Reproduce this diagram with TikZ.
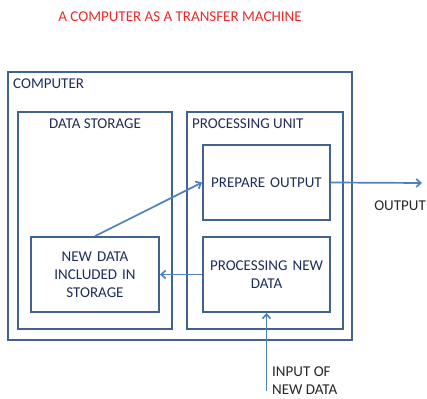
\documentclass[tikz,border=0pt]{standalone}
\usepackage{fontspec}
\setmainfont{Carlito}
\usetikzlibrary{arrows.meta}
\definecolor{boxline}{HTML}{42628F}
\definecolor{arrowline}{HTML}{4F81BD}
\definecolor{boxtext}{HTML}{1F2D5A}
\definecolor{titlered}{HTML}{F02828}
\begin{document}
\begin{tikzpicture}[x=1pt,y=-1pt,
  every node/.style={font=\fontsize{15}{18}\selectfont, inner sep=0pt},
  frame/.style={draw=boxline, line width=1.8pt, minimum width=#1},
  inbox/.style={draw=boxline, line width=1.8pt, text=boxtext, align=center,
                minimum width=127pt, minimum height=75pt, text width=120pt},
  flow/.style={draw=arrowline, line width=1.7pt, -{Straight Barb[length=4.5pt,width=8pt]}},
  plain/.style={text=black!85}]
\useasboundingbox (0,0) rectangle (427,398);

\node[text=titlered] (title) at (180,17) {A COMPUTER AS A TRANSFER MACHINE};

% outer frame and the two units
\node[frame=344pt, minimum height=268pt] (computer) at (180,206) {};
\node[frame=154pt, minimum height=217pt] (storage) at (95,220.5) {};
\node[frame=156pt, minimum height=217pt] (unit) at (265,220.5) {};

\node[anchor=west, text=boxtext] (lcomputer) at (13,84) {COMPUTER};
\node[text=boxtext] (lstorage) at (95,124) {DATA STORAGE};
\node[anchor=west, text=boxtext] (lunit) at (192,124) {PROCESSING UNIT};

% inner steps
\node[inbox] (prepare) at (266.5,182.5) {PREPARE OUTPUT};
\node[inbox] (procnew) at (266.5,274.5) {PROCESSING NEW\\DATA};
\node[inbox, minimum width=128pt] (newdata) at (95,274.5) {NEW DATA\\INCLUDED IN\\STORAGE};

% connectors
\coordinate (outend) at (422,183);
\coordinate (instart) at (266.5,391);
\draw[flow] (newdata.north) -- (prepare.west);
\draw[flow] (procnew.west) -- (newdata.east);
\draw[flow] (prepare.east) -- (outend);
\draw[flow] (instart) -- (procnew.south);

\node[plain, anchor=east] (loutput) at (426,206) {OUTPUT};
\node[plain, anchor=west, align=left] (linput) at (272,381) {INPUT OF\\NEW DATA};
\end{tikzpicture}
\end{document}
